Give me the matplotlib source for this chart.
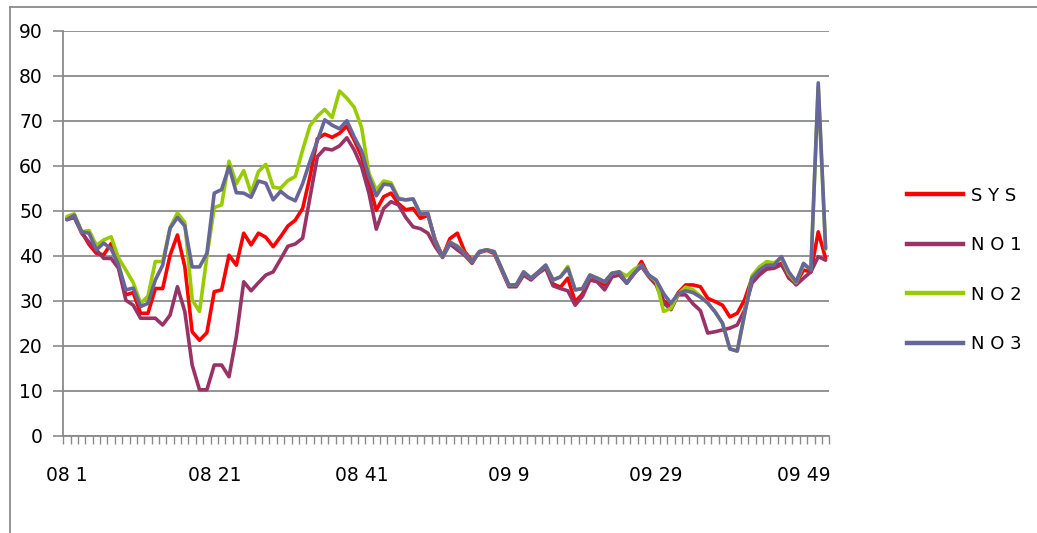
import matplotlib
matplotlib.use("Agg")
import matplotlib.pyplot as plt
from matplotlib.lines import Line2D
from matplotlib.ticker import FixedLocator, NullFormatter

# Weekly categories: 2008 weeks 1-52, 2009 weeks 1-52
weeks_2008 = [f"08 {w}" for w in range(1, 53)]
weeks_2009 = [f"09 {w}" for w in range(1, 53)]
categories = weeks_2008 + weeks_2009
label_step = 20

sys_price = [
    48.3, 48.8, 45.3, 42.5, 40.5, 40.2, 42.7, 37.6, 31.3, 31.8,
    27.2, 27.2, 32.7, 32.7, 40.1, 44.6, 37.6, 23.1, 21.2, 22.9,
    32.0, 32.4, 40.1, 37.9, 45.0, 42.4, 45.0, 44.1, 42.0, 44.2,
    46.6, 47.9, 50.5, 57.6, 66.0, 67.0, 66.3, 67.2, 68.8, 65.7,
    62.0, 56.1, 50.1, 53.1, 53.9, 51.6, 50.2, 50.5, 48.3, 49.0,
    43.5, 39.8, 43.8, 45.0, 40.9, 38.9, 40.7, 41.2, 40.5, 37.0,
    33.4, 33.4, 36.0, 34.8, 36.2, 37.5, 33.7, 33.0, 35.0, 29.8,
    31.5, 35.5, 34.8, 33.5, 35.8, 36.2, 33.9, 36.0, 38.7, 35.5,
    34.0, 30.0, 28.7, 31.8, 33.5, 33.5, 33.1, 30.5, 29.8, 29.0,
    26.4, 27.2, 30.2, 35.0, 36.5, 37.5, 37.5, 38.3, 35.0, 33.9,
    36.8, 36.4, 45.3, 39.4,
]

no1 = [
    48.0, 48.5, 45.0, 43.0, 41.3, 39.4, 39.4, 37.2, 30.1, 29.0,
    26.1, 26.1, 26.1, 24.6, 26.8, 33.1, 27.6, 15.7, 10.2, 10.2,
    15.7, 15.7, 13.1, 22.0, 34.2, 32.2, 34.0, 35.7, 36.4, 39.2,
    42.1, 42.6, 43.9, 53.0, 62.0, 63.8, 63.5, 64.4, 66.2, 63.5,
    59.8, 53.9, 45.9, 50.5, 52.0, 51.3, 48.5, 46.4, 46.0, 45.0,
    42.0, 39.6, 42.6, 41.3, 40.1, 38.3, 40.9, 41.3, 40.7, 36.8,
    33.1, 33.1, 35.7, 34.6, 36.1, 37.2, 33.3, 32.7, 32.2, 29.0,
    31.0, 34.6, 34.2, 32.4, 35.3, 35.7, 33.9, 36.1, 37.6, 35.3,
    33.5, 29.5, 28.0, 31.3, 31.3, 29.3, 27.8, 22.8, 23.1, 23.5,
    23.9, 24.6, 27.9, 33.9, 35.7, 37.0, 37.2, 38.0, 35.3, 33.5,
    35.0, 36.4, 39.8, 39.0,
]

no2 = [
    48.7, 49.3, 45.3, 45.6, 42.3, 43.5, 44.2, 39.5, 36.8, 34.0,
    29.4, 31.0, 38.7, 38.7, 46.2, 49.5, 47.4, 30.2, 27.6, 39.8,
    50.7, 51.3, 61.0, 56.0, 58.9, 53.9, 58.7, 60.3, 55.2, 55.0,
    56.7, 57.6, 63.5, 68.9, 71.0, 72.5, 70.7, 76.6, 75.0, 73.0,
    68.5, 58.3, 54.6, 56.6, 56.2, 52.8, 52.4, 52.6, 49.2, 49.4,
    43.2, 39.8, 43.0, 42.2, 40.5, 38.7, 40.9, 41.3, 40.9, 37.2,
    33.5, 33.5, 36.4, 35.0, 36.4, 37.9, 34.6, 35.3, 37.6, 32.4,
    32.7, 35.7, 35.0, 34.2, 36.1, 36.4, 35.5, 37.0, 37.9, 35.7,
    34.3, 27.6, 28.3, 31.5, 33.0, 32.4, 31.0, 29.5, 27.5, 25.0,
    19.3, 18.8, 27.0, 35.5, 37.5, 38.7, 38.4, 39.5, 36.0, 34.0,
    38.0, 37.0, 77.5, 41.5,
]

no3 = [
    48.0, 49.0, 45.3, 45.0, 41.3, 42.8, 41.5, 38.0, 32.4, 32.8,
    28.7, 29.4, 34.6, 37.9, 46.1, 48.5, 46.6, 37.5, 37.5, 40.5,
    53.9, 54.7, 59.8, 54.0, 53.9, 53.0, 56.6, 56.1, 52.4, 54.3,
    53.0, 52.2, 56.0, 61.0, 65.5, 70.2, 69.0, 68.2, 70.0, 66.4,
    63.3, 57.6, 53.3, 55.9, 55.7, 52.6, 52.4, 52.6, 49.2, 49.4,
    43.2, 39.8, 43.0, 42.0, 40.5, 38.7, 40.9, 41.3, 40.9, 37.2,
    33.5, 33.5, 36.4, 35.0, 36.4, 37.9, 34.6, 35.3, 37.2, 32.4,
    32.7, 35.7, 35.0, 34.2, 36.1, 36.4, 33.9, 36.1, 37.9, 35.7,
    34.6, 31.6, 29.4, 31.6, 32.2, 31.8, 30.8, 29.5, 27.5, 25.0,
    19.3, 18.8, 27.0, 35.0, 36.8, 37.9, 37.9, 39.8, 36.4, 34.2,
    38.3, 36.8, 78.4, 41.6,
]

series_names = ["S Y S", "N O 1", "N O 2", "N O 3"]
series_values = [sys_price, no1, no2, no3]
series_colors = ["#FF0000", "#993366", "#99CC00", "#666699"]

y_ticks = list(range(0, 91, 10))

plt.rcParams["font.family"] = ["DejaVu Sans"]
grey = "#8A8A8A"

fig = plt.figure(figsize=(10.37, 5.33), dpi=100)
ax = fig.add_axes([0.0610, 0.1826, 0.7387, 0.7598])

x = list(range(len(categories)))
handles = []
for name, vals, col in zip(series_names, series_values, series_colors):
    ax.plot(x, vals, color=col, lw=2.6, solid_joinstyle="round",
            solid_capstyle="round", label=name, zorder=3)
    handles.append(Line2D([0], [0], color=col, lw=3.2, label=name))

ax.set_xlim(-0.5, len(categories) - 0.5)
ax.set_ylim(0, 90)

# y axis
ax.set_yticks(y_ticks)
ax.yaxis.grid(True, color=grey, lw=1.3, zorder=0)
ax.tick_params(axis="y", direction="out", length=7.2, width=1.2, color=grey,
               pad=7.5, labelsize=13.5, labelcolor="black")

# x axis: labels every 20 weeks, tick marks between every category
label_pos = x[::label_step]
ax.set_xticks(label_pos)
ax.set_xticklabels([categories[i] for i in label_pos])
ax.tick_params(axis="x", which="major", length=0, pad=22, labelsize=13.5,
               labelcolor="black")
ax.xaxis.set_minor_locator(FixedLocator([i - 0.5 for i in range(len(categories) + 1)]))
ax.xaxis.set_minor_formatter(NullFormatter())
ax.tick_params(axis="x", which="minor", direction="out", length=5.8,
               width=1.0, color=grey)

for side in ("top", "right"):
    ax.spines[side].set_visible(False)
for side in ("left", "bottom"):
    ax.spines[side].set_color(grey)
    ax.spines[side].set_linewidth(1.3)
ax.set_axisbelow(True)

# chart area frame (left and top edges)
fig.add_artist(Line2D([10 / 1037, 10 / 1037], [0, 1 - 7 / 533],
                      transform=fig.transFigure, color=grey, lw=1.3))
fig.add_artist(Line2D([10 / 1037, 1], [1 - 7 / 533, 1 - 7 / 533],
                      transform=fig.transFigure, color=grey, lw=1.3))

fig.legend(handles=handles, loc="center left",
           bbox_to_anchor=(0.8743, 0.4934), frameon=False, fontsize=13,
           handlelength=3.1, handletextpad=0.45, labelspacing=1.75,
           borderpad=0, borderaxespad=0)

fig.savefig("out.png", dpi=100)
